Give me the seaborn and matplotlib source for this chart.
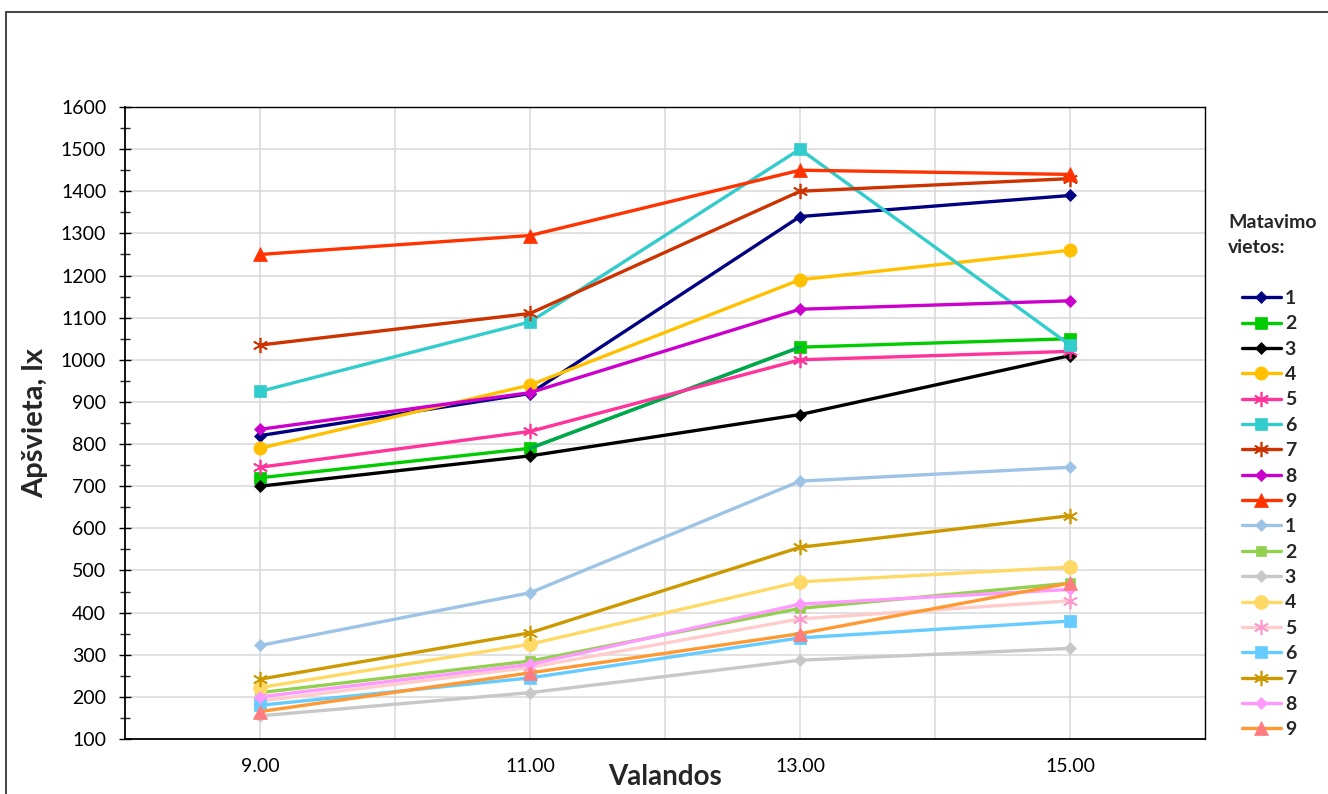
import matplotlib
matplotlib.use("Agg")
import matplotlib.pyplot as plt
from matplotlib.lines import Line2D
from matplotlib.patches import Rectangle
from matplotlib.ticker import MultipleLocator, FixedLocator
import seaborn as sns
import pandas as pd

# Measurement times (hours) and their labels
hours = [9, 11, 13, 15]
hour_labels = ["9.00", "11.00", "13.00", "15.00"]

# Illuminance, lx, at measurement places 1-9 (upper group)
upper_1 = [820, 920, 1340, 1390]
upper_2 = [720, 790, 1030, 1050]
upper_3 = [700, 772, 870, 1010]
upper_4 = [790, 940, 1190, 1260]
upper_5 = [745, 830, 1000, 1020]
upper_6 = [925, 1090, 1500, 1035]
upper_7 = [1035, 1110, 1400, 1430]
upper_8 = [835, 922, 1120, 1140]
upper_9 = [1250, 1295, 1450, 1440]

# Illuminance, lx, at measurement places 1-9 (lower group)
lower_1 = [322, 447, 712, 745]
lower_2 = [210, 285, 410, 470]
lower_3 = [155, 210, 287, 315]
lower_4 = [222, 325, 473, 508]
lower_5 = [190, 270, 385, 428]
lower_6 = [180, 245, 340, 380]
lower_7 = [242, 352, 555, 630]
lower_8 = [200, 277, 420, 455]
lower_9 = [165, 257, 350, 470]

place_labels = ["1", "2", "3", "4", "5", "6", "7", "8", "9"]

STAR = (6, 2, 0)

# (values, line colour, marker, marker size, marker colour)
series = [
    (upper_1, "#000080", "D", 6.5, "#000080"),
    (upper_2, "#00CC00", "s", 9, "#00CC00"),
    (upper_3, "#000000", "D", 6, "#000000"),
    (upper_4, "#FFC000", "o", 9.5, "#FFC000"),
    (upper_5, "#FF3399", STAR, 11, "#FF3399"),
    (upper_6, "#33CCCC", "s", 9, "#33CCCC"),
    (upper_7, "#CC3300", STAR, 11, "#CC3300"),
    (upper_8, "#CC00CC", "D", 6.5, "#CC00CC"),
    (upper_9, "#FF3300", "^", 9.5, "#FF3300"),
    (lower_1, "#9DC3E6", "D", 6.5, "#9DC3E6"),
    (lower_2, "#92D050", "s", 7, "#92D050"),
    (lower_3, "#C8C8C8", "D", 6.5, "#C8C8C8"),
    (lower_4, "#FFD966", "o", 10, "#FFD966"),
    (lower_5, "#FFCCCC", STAR, 11, "#FF99CC"),
    (lower_6, "#66CCFF", "s", 9, "#66CCFF"),
    (lower_7, "#CC9900", STAR, 11, "#CC9900"),
    (lower_8, "#FF99FF", "D", 6.5, "#FF99FF"),
    (lower_9, "#FF9933", "^", 9.5, "#FF7C80"),
]

sns.set_theme(style="white")
plt.rcParams["font.family"] = ["Lato", "DejaVu Sans"]

fig = plt.figure(figsize=(13.28, 7.94), dpi=100)
ax = fig.add_axes([125 / 1328, 1 - 739 / 794, (1205 - 125) / 1328, (739 - 107) / 794])

LW = 2.4
handles = []
for i, (vals, col, mk, ms, mcol) in enumerate(series):
    df = pd.DataFrame({"hour": hours, "lx": vals})
    mew = 1.2 if mk == STAR else 0.5
    sns.lineplot(data=df, x="hour", y="lx", color=col, linewidth=LW,
                 marker=mk, markersize=ms, markerfacecolor=mcol,
                 markeredgecolor=mcol, markeredgewidth=mew,
                 ax=ax, zorder=3 + i * 0.01, legend=False)
    handles.append(Line2D([], [], color=col, linewidth=LW, marker=mk,
                          markersize=ms, markerfacecolor=mcol, markeredgecolor=mcol,
                          markeredgewidth=mew))

# the 11.00-13.00 segment of place 2 is drawn in a darker green
seg = pd.DataFrame({"hour": hours[1:3], "lx": upper_2[1:3]})
sns.lineplot(data=seg, x="hour", y="lx", color="#00A651", linewidth=LW,
             ax=ax, zorder=3.015, legend=False)

ax.set_xlim(8, 16)
ax.set_ylim(100, 1600)
ax.xaxis.set_major_locator(FixedLocator(hours))
ax.set_xticklabels(hour_labels)
ax.xaxis.set_minor_locator(FixedLocator([10, 12, 14]))
ax.yaxis.set_major_locator(MultipleLocator(100))
ax.yaxis.set_minor_locator(MultipleLocator(50))

ax.grid(True, which="major", color="#D9D9D9", linewidth=1.1, zorder=0)
ax.grid(True, which="minor", axis="x", color="#D9D9D9", linewidth=1.1, zorder=0)
ax.set_axisbelow(True)

ax.tick_params(axis="x", which="both", length=0, labelsize=14, pad=14, colors="#000000")
ax.tick_params(axis="y", which="major", direction="inout", length=9, width=1,
               left=True, labelsize=14, pad=9, colors="#000000")
ax.tick_params(axis="y", which="minor", direction="inout", length=7, width=1, left=True)

for side in ["left", "bottom", "top", "right"]:
    ax.spines[side].set_visible(True)
    ax.spines[side].set_color("#000000")
    ax.spines[side].set_linewidth(1.3 if side in ("left", "bottom") else 1.0)

ax.set_xlabel("Valandos", fontsize=20, fontweight="bold", va="center")
ax.xaxis.set_label_coords(0.5, (739 - 777) / 632)
ax.set_ylabel("Apšvieta, lx", fontsize=21, fontweight="bold", va="center", ha="center")
ax.yaxis.set_label_coords((35 - 125) / 1080, (739 - 423) / 632)

fig.text(1228 / 1328, 1 - 235 / 794, "Matavimo\nvietos:", fontsize=14,
         fontweight="bold", ha="left", va="center", linespacing=1.6)

fig.legend(handles, place_labels * 2, loc="upper left",
           bbox_to_anchor=(1242 / 1328, 1 - 290 / 794), frameon=False,
           prop={"size": 14, "weight": "bold"}, handlelength=2.0,
           handletextpad=0.2, labelspacing=0.43, borderaxespad=0, borderpad=0)

# outer chart frame
fig.add_artist(Rectangle((6 / 1328, -0.1), 1.2, 1.1 - 12 / 794,
                         transform=fig.transFigure, fill=False,
                         edgecolor="#444444", linewidth=1.4, clip_on=False))

fig.savefig("out.png", dpi=100)
